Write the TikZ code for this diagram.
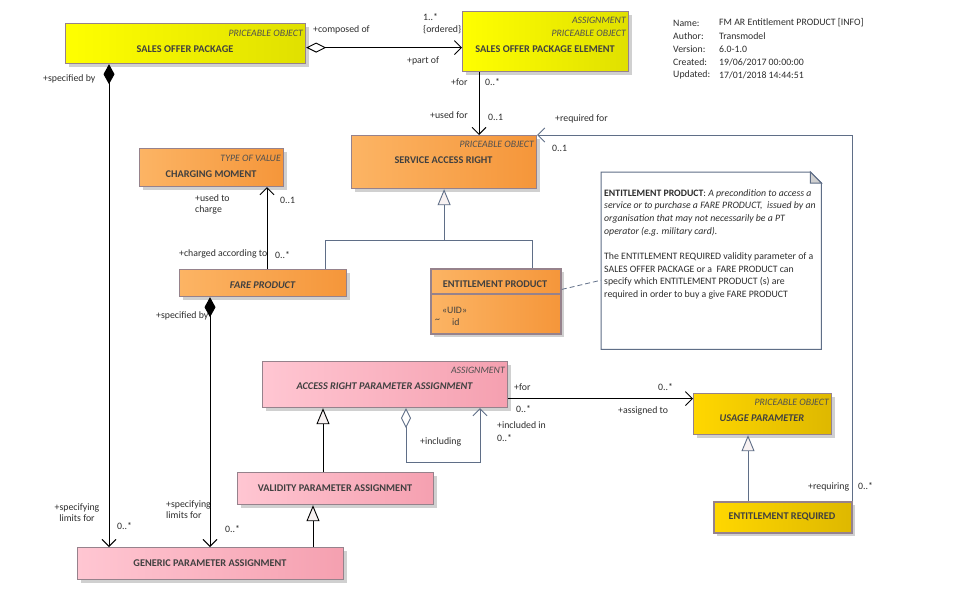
\documentclass[tikz,border=0pt]{standalone}
\usepackage{fontspec}
\setmainfont{Carlito}
\usetikzlibrary{arrows.meta,shadows,calc}
\definecolor{yelL}{RGB}{255,255,0}
\definecolor{yelR}{RGB}{224,224,0}
\definecolor{orL}{RGB}{252,180,100}
\definecolor{orR}{RGB}{245,150,58}
\definecolor{pinkL}{RGB}{255,198,210}
\definecolor{pinkR}{RGB}{245,160,176}
\definecolor{goldL}{RGB}{255,215,0}
\definecolor{goldR}{RGB}{222,184,0}
\definecolor{bordc}{RGB}{150,130,140}
\definecolor{shadc}{RGB}{208,208,208}
\definecolor{namec}{RGB}{64,64,64}
\definecolor{stc}{RGB}{80,80,80}
\definecolor{labc}{RGB}{45,45,45}
\definecolor{bluel}{RGB}{95,110,135}
\definecolor{trif}{RGB}{248,242,242}
\tikzset{
  cls/.style={draw=bordc, line width=1.2pt, anchor=north west, inner sep=0pt,
    drop shadow={shadow xshift=3pt, shadow yshift=-3pt, fill=shadc, opacity=1}},
  stereo/.style={font=\fontsize{9.8}{10}\selectfont\itshape, text=stc, inner sep=0pt, anchor=east},
  cname/.style={font=\fontsize{10.3}{11}\selectfont\bfseries, text=namec, inner sep=0pt},
  cnamei/.style={font=\fontsize{10.3}{11}\selectfont\bfseries\itshape, text=namec, inner sep=0pt},
  lab/.style={font=\fontsize{9.8}{11}\selectfont, text=labc, inner sep=0pt, anchor=west},
  conn/.style={line width=0.9pt, draw=black},
  bconn/.style={line width=0.9pt, draw=bluel},
  barb/.tip={Straight Barb[length=7pt,width=14pt,line width=0.9pt]},
  odia/.tip={Diamond[open,length=20pt,width=10pt,line width=0.9pt]},
  fdia/.tip={Diamond[length=20pt,width=11pt]},
  gtri/.tip={Triangle[length=16pt,width=13pt,fill=trif,line width=0.9pt]},
}
\begin{document}
\begin{tikzpicture}[x=1pt,y=-1pt]
\useasboundingbox (0,0) rectangle (973,590);
\fill[white] (0,0) rectangle (973,590);

% ---------- classes ----------
\node[cls, left color=yelL, right color=yelR, minimum width=240pt, minimum height=40pt] (sop) at (65,23) {};
\node[stereo] at (303,33) {PRICEABLE OBJECT};
\node[cname] at (185,49) {SALES OFFER PACKAGE};

\node[cls, left color=yelL, right color=yelR, minimum width=166pt, minimum height=60pt] (sope) at (462,11) {};
\node[stereo] at (626,20) {ASSIGNMENT};
\node[stereo] at (626,33) {PRICEABLE OBJECT};
\node[cname] at (545,49) {SALES OFFER PACKAGE ELEMENT};

\node[cls, left color=orL, right color=orR, minimum width=185pt, minimum height=53pt] (sar) at (351,135) {};
\node[stereo] at (534,144) {PRICEABLE OBJECT};
\node[cname] at (443.5,160) {SERVICE ACCESS RIGHT};

\node[cls, left color=orL, right color=orR, minimum width=144pt, minimum height=38pt] (chm) at (139,148) {};
\node[stereo] at (281,158) {TYPE OF VALUE};
\node[cname] at (211,174) {CHARGING MOMENT};

\node[cls, left color=orL, right color=orR, minimum width=167pt, minimum height=27pt] (fp) at (179,269) {};
\node[cnamei] at (262.5,285) {FARE PRODUCT};

\node[cls, left color=orL, right color=orR, minimum width=130pt, minimum height=65pt, line width=1.8pt] (ep) at (430,268) {};
\draw[draw=bordc, line width=1.2pt] ([yshift=-26pt]ep.north west) -- ([yshift=-26pt]ep.north east);
\node[cname] at (495,284) {ENTITLEMENT PRODUCT};
\node[lab, text=namec] at (442,310) {«UID»};
\node[lab, text=namec] at (435,321) {\raisebox{1pt}{\char"7E}};
\node[lab, text=namec] at (452,322.5) {id};

\node[cls, left color=pinkL, right color=pinkR, minimum width=245pt, minimum height=46pt] (arpa) at (262,361) {};
\node[stereo] at (505,370) {ASSIGNMENT};
\node[cnamei] at (384.5,386) {ACCESS RIGHT PARAMETER ASSIGNMENT};

\node[cls, left color=pinkL, right color=pinkR, minimum width=196pt, minimum height=32pt] (vpa) at (237,472) {};
\node[cname] at (335,488) {VALIDITY PARAMETER ASSIGNMENT};

\node[cls, left color=pinkL, right color=pinkR, minimum width=266pt, minimum height=32pt] (gpa) at (77,547) {};
\node[cname] at (210,563) {GENERIC PARAMETER ASSIGNMENT};

\node[cls, left color=goldL, right color=goldR, minimum width=138pt, minimum height=41pt] (up) at (693,393) {};
\node[stereo] at (829,402) {PRICEABLE OBJECT};
\node[cnamei] at (762,418) {USAGE PARAMETER};

\node[cls, left color=goldL, right color=goldR, minimum width=138pt, minimum height=31pt, line width=1.8pt] (er) at (713,501) {};
\node[cname] at (782,517) {ENTITLEMENT REQUIRED};

% ---------- note ----------
\node[anchor=north west, minimum width=220pt, minimum height=177pt, inner sep=0pt] (note) at (601,172) {};
\fill[white] (note.north west) -- ([xshift=-11pt]note.north east) -- ([yshift=-11pt]note.north east) -- (note.south east) -- (note.south west) -- cycle;
\draw[bluel, line width=1pt] (note.north west) -- ([xshift=-11pt]note.north east) -- ([yshift=-11pt]note.north east) -- (note.south east) -- (note.south west) -- cycle;
\filldraw[draw=bluel, fill=shadc, line width=1pt] ([xshift=-11pt]note.north east) -- ([xshift=-11pt,yshift=-11pt]note.north east) -- ([yshift=-11pt]note.north east) -- cycle;
\node[anchor=north west, inner sep=0pt, align=left, text=labc, font=\fontsize{9.8}{12.7}\selectfont] (notetext) at (604,189) {%
\textbf{ENTITLEMENT PRODUCT}: \textit{A precondition to access a}\\
\textit{service or to purchase a FARE PRODUCT,\ \ issued by an}\\
\textit{organisation that may not necessarily be a PT}\\
\textit{operator (e.g. military card).}\\[12.7pt]
The ENTITLEMENT REQUIRED validity parameter of a\\
SALES OFFER PACKAGE or a\ \ FARE PRODUCT can\\
specify which ENTITLEMENT PRODUCT (s) are\\
required in order to buy a give FARE PRODUCT};
\draw[bluel, line width=0.8pt, dash pattern=on 5pt off 3pt] ([yshift=12pt]ep.east) -- ([yshift=-19.5pt]note.west);

% ---------- info ----------
\node[lab] (i1) at (673,23) {Name:};
\node[lab] (i2) at (673,36) {Author:};
\node[lab] (i3) at (673,49) {Version:};
\node[lab] (i4) at (673,62) {Created:};
\node[lab] (i5) at (673,75) {Updated:};
\node[lab] (v1) at (719,23) {FM AR Entitlement PRODUCT [INFO]};
\node[lab] (v2) at (719,36) {Transmodel};
\node[lab] (v3) at (719,49) {6.0-1.0};
\node[lab] (v4) at (719,62) {19/06/2017 00:00:00};
\node[lab] (v5) at (719,75) {17/01/2018 14:44:51};

% ---------- connectors ----------
\draw[conn, odia-barb] ([yshift=-4pt]sop.east) coordinate (a1) -- (a1 -| sope.west);
\node[lab] at (313,30) {+composed of};
\node[lab] at (423,17) {1..*};
\node[lab] at (423,30) {\{ordered\}};
\node[lab] at (407,61) {+part of};

\draw[conn, fdia-barb] ([xshift=44pt]sop.south west) -- ([xshift=32pt]gpa.north west);
\node[lab] at (43,79) {+specified by};
\node[lab, align=center, anchor=center] at (77,513) {+specifying\\limits for};
\node[lab] at (117,526) {0..*};

\draw[conn, -barb] ([xshift=17pt]sope.south west) coordinate (a3) -- (a3 |- sar.north);
\node[lab] at (451,82) {+for};
\node[lab] at (485,82) {0..*};
\node[lab] at (430,115) {+used for};
\node[lab] at (488,117) {0..1};

\draw[conn, -barb] ([xshift=88pt]fp.north west) coordinate (a4) -- (a4 |- chm.south);
\node[lab, align=left, anchor=north west] at (195,194) {+used to\\charge};
\node[lab] at (280,200) {0..1};
\node[lab] at (179,254) {+charged according to};
\node[lab] at (275,255) {0..*};

\draw[conn, fdia-barb] ([xshift=31pt]fp.south west) coordinate (a5) -- (a5 |- gpa.north);
\node[lab] at (156,316) {+specified by};
\node[lab, align=left, anchor=north west] at (166,501) {+specifying\\limits for};
\node[lab] at (225,529) {0..*};

\coordinate (j) at ($(sar.south)+(0,51)$);
\draw[bconn] ([xshift=146pt]fp.north west) |- (j) -| ([xshift=102pt]ep.north west);
\draw[bconn, -gtri] (j) -- (sar.south);

\draw[bconn, -barb] (er.north east) |- (sar.north east);
\node[lab] at (555,119) {+required for};
\node[lab] at (552,148) {0..1};
\node[lab] at (808,487) {+requiring};
\node[lab] at (858,486) {0..*};

\draw[conn, -barb] ([yshift=-14pt]arpa.east) coordinate (a9) -- (a9 -| up.west);
\node[lab] at (514,387) {+for};
\node[lab] at (658,387) {0..*};
\node[lab] at (516,409) {0..*};
\node[lab] at (618,411) {+assigned to};

\draw[bconn, odia-barb] ([xshift=144pt]arpa.south west) -- ++(0,54) -| ([xshift=218pt]arpa.south west);
\node[lab] at (420,442) {+including};
\node[lab] at (497,425) {+included in};
\node[lab] at (497,438) {0..*};

\draw[conn, -gtri] ([xshift=86pt]vpa.north west) coordinate (a11) -- (a11 |- arpa.south);
\draw[conn, -gtri] ([xshift=236pt]gpa.north west) coordinate (a12) -- (a12 |- vpa.south);
\draw[bconn, -gtri] ([xshift=35pt]er.north west) coordinate (a13) -- (a13 |- up.south);
\end{tikzpicture}
\end{document}
